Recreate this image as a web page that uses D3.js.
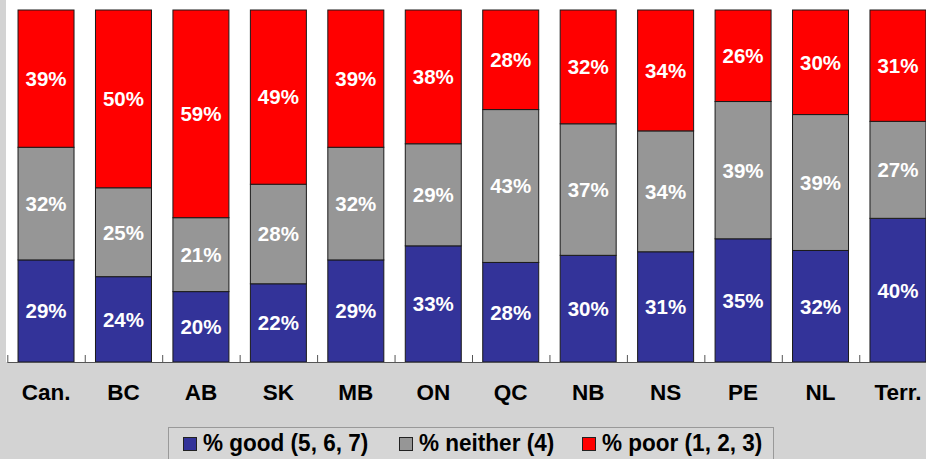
<!DOCTYPE html>
<html>
<head>
<meta charset="utf-8">
<script src="https://cdn.jsdelivr.net/npm/d3@7"></script>
<style>
  body { margin: 0; background: #d3d3d3; }
  svg { display: block; font-family: "Liberation Sans", Arial, sans-serif; }
</style>
</head>
<body>
<div class="chart"></div>
<script>
const categories = ["Can.", "BC", "AB", "SK", "MB", "ON", "QC", "NB", "NS", "PE", "NL", "Terr."]
const good    = [29, 24, 20, 22, 29, 33, 28, 30, 31, 35, 32, 40]
const neither = [32, 25, 21, 28, 32, 29, 43, 37, 34, 39, 39, 27]
const poor    = [39, 50, 59, 49, 39, 38, 28, 32, 34, 26, 30, 31]
const seriesNames = ["% good (5, 6, 7)", "% neither (4)", "% poor (1, 2, 3)"]
const seriesColors = ["#333399", "#969696", "#ff0000"]

const width = 926, height = 459
const plot = {left: 7.3, right: 936.7, top: 10, bottom: 362}

const svg = d3.select(".chart").append("svg").attr("width", width).attr("height", height)

// background + white plot area
svg.append("rect").attr("width", width).attr("height", height).attr("fill", "#d3d3d3")
svg.append("rect").attr("x", 6).attr("y", 0).attr("width", width - 6).attr("height", plot.bottom)
    .attr("fill", "#ffffff")

const rows = categories.map(function(c, i) {
    return {cat: c, good: good[i], neither: neither[i], poor: poor[i]}
})
const keys = ["good", "neither", "poor"]
const stacked = d3.stack().keys(keys).offset(d3.stackOffsetExpand)(rows)

const xScale = d3.scaleBand()
    .domain(categories)
    .range([plot.left, plot.right])
    .paddingInner(0.277)
    .paddingOuter(0.1385)
const yScale = d3.scaleLinear().domain([0, 1]).range([plot.bottom, plot.top])

const layers = svg.append("g").selectAll("g")
    .data(stacked)
    .enter()
    .append("g")
    .attr("fill", function(d, i) { return seriesColors[i] })

layers.selectAll("rect")
    .data(function(d) { return d })
    .enter()
    .append("rect")
    .attr("x", function(d) { return xScale(d.data.cat) })
    .attr("y", function(d) { return yScale(d[1]) })
    .attr("width", xScale.bandwidth())
    .attr("height", function(d) { return yScale(d[0]) - yScale(d[1]) })
    .attr("stroke", "#1a1a1a")
    .attr("stroke-width", 1)

layers.each(function(layer) {
    d3.select(this).selectAll("text")
        .data(layer)
        .enter()
        .append("text")
        .attr("x", function(d) { return xScale(d.data.cat) + xScale.bandwidth() / 2 })
        .attr("y", function(d) { return yScale((d[0] + d[1]) / 2) })
        .attr("dy", "0.36em")
        .attr("text-anchor", "middle")
        .attr("fill", "#ffffff")
        .attr("font-size", 20.5)
        .attr("font-weight", "bold")
        .text(function(d) { return d.data[layer.key] + "%" })
})

// tick marks between categories
const tickScale = d3.scaleLinear().domain([0, categories.length]).range([plot.left, plot.right])
const tickAxis = svg.append("g")
    .attr("transform", "translate(0," + plot.bottom + ")")
    .call(d3.axisBottom(tickScale).ticks(categories.length).tickSize(-7).tickFormat(""))
tickAxis.select(".domain").remove()
tickAxis.selectAll("line").attr("stroke", "#555")
svg.append("line")
    .attr("x1", plot.left).attr("x2", width)
    .attr("y1", plot.bottom + 0.5).attr("y2", plot.bottom + 0.5)
    .attr("stroke", "#555")

// category labels
const catAxis = svg.append("g")
    .attr("transform", "translate(0," + plot.bottom + ")")
    .call(d3.axisBottom(xScale).tickSize(0).tickPadding(22))
catAxis.select(".domain").remove()
catAxis.selectAll("text")
    .attr("font-family", "Liberation Sans, Arial, sans-serif")
    .attr("font-size", 22.5)
    .attr("font-weight", "bold")
    .attr("fill", "#000")

// legend
const legend = svg.append("g")
legend.append("rect")
    .attr("x", 168.5).attr("y", 427.5).attr("width", 605).attr("height", 40)
    .attr("fill", "#d6d6d6").attr("stroke", "#999")
const legendX = [183, 399, 582]
const items = legend.selectAll("g.item")
    .data(seriesNames)
    .enter()
    .append("g")
    .attr("class", "item")
    .attr("transform", function(d, i) { return "translate(" + legendX[i] + ",0)" })
items.append("rect")
    .attr("x", 0.5).attr("y", 437.5).attr("width", 13).attr("height", 13)
    .attr("fill", function(d, i) { return seriesColors[i] })
    .attr("stroke", "#222")
items.append("text")
    .attr("transform", "translate(20,451) scale(0.92,1)")
    .attr("font-size", 24.5)
    .attr("font-weight", "bold")
    .attr("fill", "#000")
    .text(function(d) { return d })
</script>
</body>
</html>
